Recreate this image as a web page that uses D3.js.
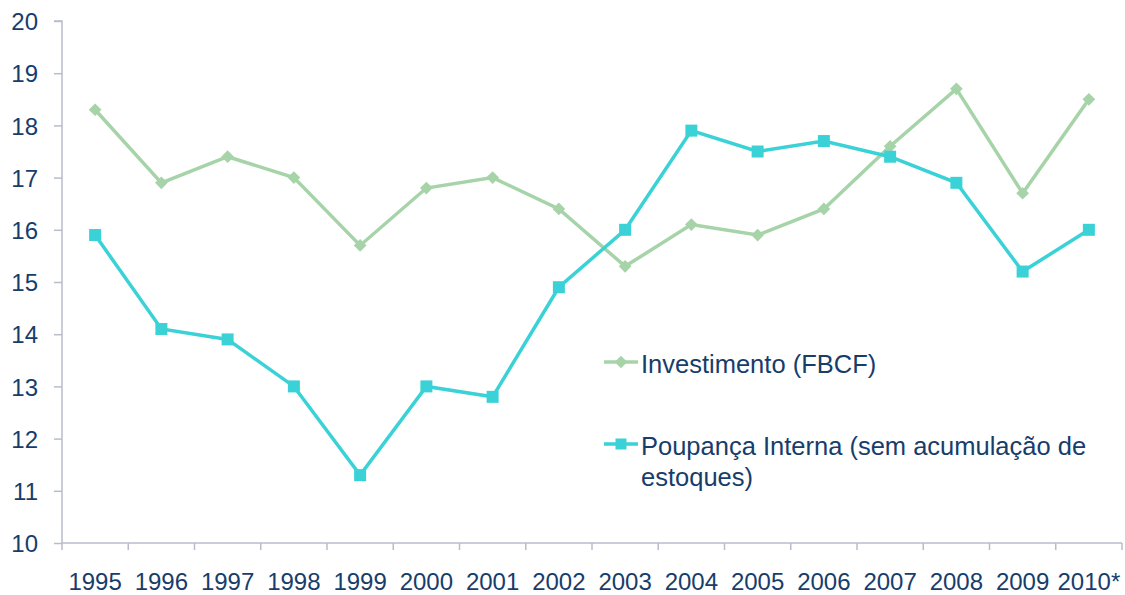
<!DOCTYPE html>
<html><head><meta charset="utf-8">
<script src="https://cdn.jsdelivr.net/npm/d3@7"></script>
<style>body{margin:0;background:#fff;} text{font-family:"Liberation Sans",Arial,sans-serif;}</style>
</head><body><svg id="c" width="1125" height="595"></svg>
<script>
const years = ["1995","1996","1997","1998","1999","2000","2001","2002","2003","2004","2005","2006","2007","2008","2009","2010*"];
const investimento = [18.3,16.9,17.4,17.0,15.7,16.8,17.0,16.4,15.3,16.1,15.9,16.4,17.6,18.7,16.7,18.5];
const poupanca = [15.9,14.1,13.9,13.0,11.3,13.0,12.8,14.9,16.0,17.9,17.5,17.7,17.4,16.9,15.2,16.0];
const yTicks = [10,11,12,13,14,15,16,17,18,19,20];
const seriesNames = ["Investimento (FBCF)", "Poupança Interna (sem acumulação de", "estoques)"];

const svg = d3.select("#c");
const L=62, R=1122, T=21, B=543;
const textColor="#173d6b", axisColor="#b9bccb";
const green="#a6d4a8", cyan="#3ad2d6";
const x = d3.scaleBand().domain(years).range([L,R]);
const y = d3.scaleLinear().domain([10,20]).range([B,T]);

// y axis
const ya = svg.append("g").attr("transform",`translate(${L},0)`)
  .call(d3.axisLeft(y).tickValues(yTicks).tickSize(8).tickPadding(16).tickFormat(d3.format("d")));
ya.select(".domain").attr("stroke",axisColor).attr("stroke-width",1.5).attr("d",`M-8,${T}H0V${B}`);
ya.selectAll(".tick line").attr("stroke",axisColor).attr("stroke-width",1.5);
ya.selectAll(".tick text").attr("fill",textColor).style("font-size","24px").style("font-family","Liberation Sans, Arial, sans-serif").attr("dy","0.36em");

// x axis
const xa = svg.append("g").attr("transform",`translate(0,${B})`);
xa.append("line").attr("x1",L).attr("x2",R).attr("y1",0).attr("y2",0).attr("stroke",axisColor).attr("stroke-width",1.5);
const bounds = years.map(d=>x(d)).concat([x(years[years.length-1])+x.bandwidth()]);
xa.selectAll("line.t").data(bounds).join("line").attr("class","t")
  .attr("x1",d=>d).attr("x2",d=>d).attr("y1",0).attr("y2",7).attr("stroke",axisColor).attr("stroke-width",1.5);
xa.selectAll("text").data(years).join("text")
  .attr("x",d=>x(d)+x.bandwidth()/2).attr("y",47).attr("text-anchor","middle")
  .attr("fill",textColor).style("font-size","24px").text(d=>d);

const cx = d=>x(d)+x.bandwidth()/2;
const line = d3.line().x((v,i)=>cx(years[i])).y(v=>y(v));

svg.append("path").datum(investimento).attr("d",line).attr("fill","none").attr("stroke",green).attr("stroke-width",3.5);
svg.selectAll("rect.dia").data(investimento).join("rect").attr("class","dia")
  .attr("x",-4.5).attr("y",-4.5).attr("width",9).attr("height",9).attr("fill",green)
  .attr("transform",(v,i)=>`translate(${cx(years[i])},${y(v)}) rotate(45)`);

svg.append("path").datum(poupanca).attr("d",line).attr("fill","none").attr("stroke",cyan).attr("stroke-width",3.5);
svg.selectAll("rect.sq").data(poupanca).join("rect").attr("class","sq")
  .attr("x",(v,i)=>cx(years[i])-6).attr("y",v=>y(v)-6).attr("width",12).attr("height",12).attr("fill",cyan);

// legend
const lg = svg.append("g");
const items = [{c:green, y:362, t:[seriesNames[0]], m:"d"},{c:cyan, y:444, t:[seriesNames[1],seriesNames[2]], m:"s"}];
items.forEach(it=>{
  lg.append("line").attr("x1",604).attr("x2",638).attr("y1",it.y).attr("y2",it.y).attr("stroke",it.c).attr("stroke-width",3.5);
  if(it.m==="d") lg.append("rect").attr("x",-4.5).attr("y",-4.5).attr("width",9).attr("height",9).attr("fill",it.c).attr("transform",`translate(621,${it.y}) rotate(45)`);
  else lg.append("rect").attr("x",615.5).attr("y",it.y-5.5).attr("width",11).attr("height",11).attr("fill",it.c);
  it.t.forEach((s,j)=>lg.append("text").attr("x",641).attr("y",it.y+11+j*31).attr("fill",textColor).style("font-size","25.5px").text(s));
});
</script></body></html>
